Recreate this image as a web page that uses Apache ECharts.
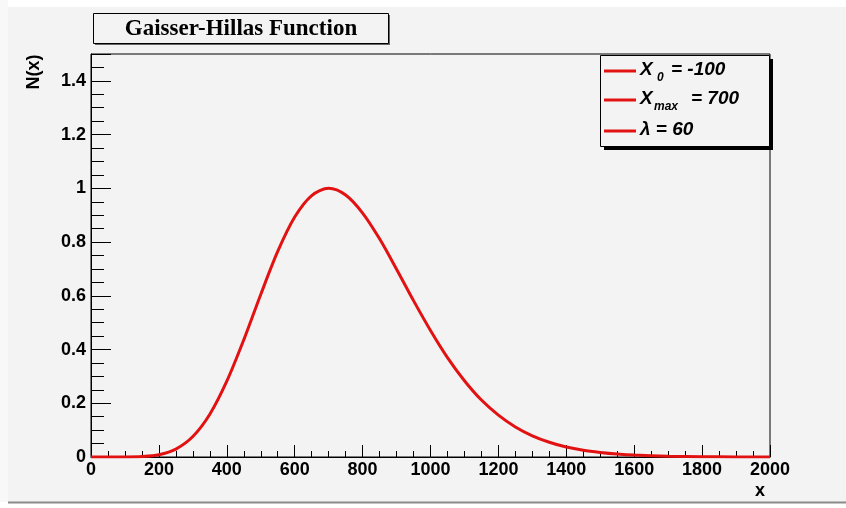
<!DOCTYPE html>
<html>
<head>
<meta charset="utf-8">
<script src="https://cdn.jsdelivr.net/npm/echarts@6/dist/echarts.min.js"></script>
<style>html,body{margin:0;padding:0;background:#fff;}#c{width:846px;height:508px;}</style>
</head>
<body>
<div id="c"></div>
<script>
// Values
const xValues = [0, 50, 100, 150, 200, 250, 300, 350, 400, 450, 500, 550, 600, 650, 700, 750, 800, 850, 900, 950, 1000, 1050, 1100, 1150, 1200, 1250, 1300, 1350, 1400, 1450, 1500, 1550, 1600, 1700, 1800, 1900, 2000];
const nValues = [0, 0.00001, 0.0002, 0.0018, 0.0087, 0.0295, 0.0761, 0.159, 0.282, 0.436, 0.605, 0.765, 0.893, 0.973, 1.0, 0.975, 0.908, 0.812, 0.699, 0.582, 0.471, 0.370, 0.284, 0.212, 0.156, 0.112, 0.079, 0.055, 0.037, 0.025, 0.017, 0.011, 0.007, 0.003, 0.001, 0.0004, 0.0002];
const xTickLabels = ['0','200','400','600','800','1000','1200','1400','1600','1800','2000'];
const yTickLabels = ['0','0.2','0.4','0.6','0.8','1','1.2','1.4'];
const titleText = 'Gaisser-Hillas Function';
const legendRows = [
  {main: 'X', sub: '0', rest: '= -100'},
  {main: 'X', sub: 'max', rest: '= 700'},
  {main: 'λ = 60', sub: '', rest: ''}
];

const RED = '#e31212';
const chart = echarts.init(document.getElementById('c'), null, {renderer: 'canvas'});
const lblFont = {fontFamily: 'Liberation Sans', fontWeight: 'bold', fontSize: 18, color: '#000'};

const legendGraphics = [];
const rowY = [70, 99, 130];
const subX = [657, 654];
const restX = [671, 691];
legendRows.forEach((r, i) => {
  const y = rowY[i];
  legendGraphics.push({type: 'line', shape: {x1: 604, y1: y + 1, x2: 636, y2: y + 1}, style: {stroke: RED, lineWidth: 3}, z: 100});
  legendGraphics.push({type: 'text', x: 640, y: y, style: {text: r.main, font: 'italic bold 19px Liberation Sans', fill: '#000', verticalAlign: 'middle', align: 'left'}, z: 100});
  if (r.sub) {
    legendGraphics.push({type: 'text', x: subX[i], y: y + 8, style: {text: r.sub, font: 'italic bold 12px Liberation Sans', fill: '#000', verticalAlign: 'middle', align: 'left'}, z: 100});
    legendGraphics.push({type: 'text', x: restX[i], y: y, style: {text: r.rest, font: 'italic bold 19px Liberation Sans', fill: '#000', verticalAlign: 'middle', align: 'left'}, z: 100});
  }
});

const option = {
  backgroundColor: '#f3f3f3',
  animation: false,
  grid: {left: 91, top: 54, width: 679, height: 403, show: true, borderColor: '#000', borderWidth: 1, backgroundColor: 'transparent', containLabel: false},
  xAxis: [
    {type: 'value', min: 0, max: 2000, interval: 200, position: 'bottom',
     axisLine: {show: true, lineStyle: {color: '#000', width: 1}},
     axisTick: {show: true, inside: true, length: 12, lineStyle: {color: '#000', width: 1}},
     splitLine: {show: false},
     axisLabel: Object.assign({margin: 4, formatter: v => xTickLabels[Math.round(v / 200)] || ''}, lblFont)},
    {type: 'value', min: 0, max: 2000, interval: 50, position: 'bottom',
     axisLine: {show: false}, splitLine: {show: false}, axisLabel: {show: false},
     axisTick: {show: true, inside: true, length: 6, lineStyle: {color: '#000', width: 1}}}
  ],
  yAxis: [
    {type: 'value', min: 0, max: 1.5, interval: 0.2, position: 'left',
     axisLine: {show: true, lineStyle: {color: '#000', width: 1}},
     axisTick: {show: true, inside: true, length: 20, lineStyle: {color: '#000', width: 1}},
     splitLine: {show: false},
     axisLabel: Object.assign({margin: 5, formatter: v => {const k = Math.round(v / 0.2); return (Math.abs(v - k * 0.2) < 1e-6 && yTickLabels[k] !== undefined) ? yTickLabels[k] : '';}}, lblFont)},
    {type: 'value', min: 0, max: 1.5, interval: 0.05, position: 'left',
     axisLine: {show: false}, splitLine: {show: false}, axisLabel: {show: false},
     axisTick: {show: true, inside: true, length: 13, lineStyle: {color: '#000', width: 1}}}
  ],
  series: [{
    type: 'line', xAxisIndex: 0, yAxisIndex: 0, smooth: 0.3, symbol: 'none',
    lineStyle: {color: RED, width: 3},
    data: xValues.map((x, i) => [x, nValues[i]]),
    z: 5
  }],
  graphic: [
    {type: 'rect', shape: {x: 0, y: 0, width: 846, height: 7}, style: {fill: '#ffffff'}, z: -10},
    {type: 'rect', shape: {x: 0, y: 0, width: 8, height: 508}, style: {fill: '#f8f8f8'}, z: -10},
    {type: 'rect', shape: {x: 0, y: 502, width: 846, height: 6}, style: {fill: '#ffffff'}, z: -10},
    {type: 'line', shape: {x1: 8, y1: 502.5, x2: 846, y2: 502.5}, style: {stroke: '#8a8a8a', lineWidth: 2}, z: -9},
    // title box
    {type: 'rect', shape: {x: 95, y: 15, width: 295, height: 30}, style: {fill: '#666'}, z: 90},
    {type: 'rect', shape: {x: 93.5, y: 13.5, width: 295, height: 30}, style: {fill: '#f3f3f3', stroke: '#000', lineWidth: 1}, z: 91},
    {type: 'text', x: 241, y: 29, style: {text: titleText, font: 'bold 23px Liberation Serif', fill: '#000', align: 'center', verticalAlign: 'middle'}, z: 92},
    // legend box
    {type: 'rect', shape: {x: 604, y: 59, width: 169, height: 91}, style: {fill: '#000'}, z: 95},
    {type: 'rect', shape: {x: 600.5, y: 55.5, width: 169, height: 91}, style: {fill: '#f3f3f3', stroke: '#000', lineWidth: 1}, z: 96},
    ...legendGraphics,
    // axis titles
    {type: 'text', x: 34, y: 72, rotation: Math.PI / 2, style: {text: 'N(x)', font: 'bold 18px Liberation Sans', fill: '#000', align: 'center', verticalAlign: 'middle'}, z: 50},
    {type: 'text', x: 760, y: 491, style: {text: 'x', font: 'bold 18px Liberation Sans', fill: '#000', align: 'center', verticalAlign: 'middle'}, z: 50}
  ]
};
chart.setOption(option);
</script>
</body>
</html>
